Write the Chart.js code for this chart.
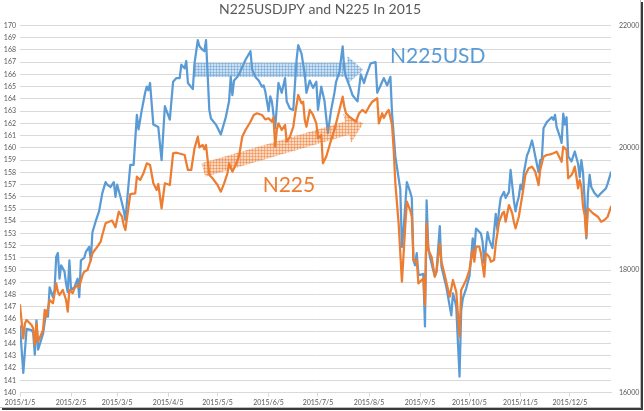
<!DOCTYPE html>
<html>
<head>
<meta charset="utf-8">
<script src="https://cdn.jsdelivr.net/npm/chart.js@4.4.1/dist/chart.umd.min.js"></script>
<style>
html,body{margin:0;padding:0;background:#fff;}
#frame{position:absolute;left:0;top:0;width:640px;height:407px;border-right:1px solid #bdbdbd;border-bottom:1px solid #bdbdbd;box-shadow:2px 2px 0 #3a3a3a;background:#fff;}
canvas{display:block;}
</style>
</head>
<body>
<div id="frame"><canvas id="c" width="640" height="407"></canvas></div>
<script>
// ---------- data (x = day of year 2015) ----------
const chartTitle = 'N225USDJPY and N225 In 2015';
const tickDays = [5, 36, 64, 95, 125, 156, 186, 217, 248, 278, 309, 339];
const tickLabels = ['2015/1/5','2015/2/5','2015/3/5','2015/4/5','2015/5/5','2015/6/5','2015/7/5','2015/8/5','2015/9/5','2015/10/5','2015/11/5','2015/12/5'];

const usdDays = [5,7,9,12,13,14,15,16,19,21,22,23,25,26,27,28,29,30,32,33,34,35,36,38,40,41,42,44,45,47,48,49,51,53,55,57,58,60,62,63,64,66,68,69,72,74,76,77,79,81,82,83,84,86,89,91,93,96,98,100,102,103,105,106,107,110,111,113,114,116,117,118,120,121,124,127,130,132,133,134,135,137,138,140,142,145,146,148,150,152,153,154,156,157,158,160,161,162,164,166,167,169,171,173,174,176,178,179,181,183,185,186,188,190,192,194,196,197,199,201,202,203,205,207,210,212,214,215,218,221,222,224,225,226,228,230,231,233,236,237,238,240,242,243,244,245,246,247,248,250,251,252,253,254,256,257,258,260,261,264,267,268,269,270,272,273,274,276,278,280,281,282,285,286,287,289,290,292,294,295,296,297,299,300,302,303,305,306,307,308,309,310,311,313,314,316,317,318,320,321,322,323,325,328,329,330,331,333,334,335,336,337,338,340,341,342,344,345,346,347,348,349,350,351,352,354,356,358,361,362,364];
const usdValues = [145.4,141.6,145.2,145.1,144.9,143.1,145.9,143.5,144.8,146.7,146.2,148.6,147.8,148.4,151.1,151.4,149.3,150.4,149.9,148.9,148.2,150.8,148.4,148.6,149.3,147.8,150.8,151.0,151.5,151.9,150.8,153.1,154.0,154.8,156.3,157.2,157.0,156.8,157.2,156.0,157.0,156.0,154.9,154.1,158.6,158.6,162.7,161.5,163.1,164.5,165.0,164.7,165.3,161.9,161.7,159.0,163.4,162.3,165.4,165.7,165.7,166.8,166.5,167.1,165.3,164.8,166.9,168.8,168.3,168.0,167.9,168.8,163.1,162.4,161.9,161.1,162.5,163.8,165.8,164.3,165.5,165.8,166.0,166.6,167.2,167.9,166.4,165.8,165.5,165.0,165.1,164.6,163.0,164.2,163.8,161.6,163.4,165.3,164.5,165.7,163.8,163.2,163.1,167.2,168.4,167.7,166.0,164.5,165.5,164.9,165.4,163.1,165.0,163.8,161.2,163.1,164.5,165.4,166.2,168.3,166.4,165.8,165.1,164.3,163.8,166.0,165.3,165.8,166.9,167.0,164.5,165.1,165.4,165.7,165.1,165.8,162.8,159.3,156.6,151.9,153.3,157.2,156.4,155.9,150.8,150.4,151.4,149.7,149.6,149.7,145.4,155.7,151.9,151.1,150.0,149.5,149.9,153.6,150.3,148.6,146.3,148.1,147.6,147.0,141.3,146.7,147.7,148.5,149.5,152.6,151.6,153.4,153.0,152.3,150.6,153.1,152.5,151.8,154.6,153.3,154.9,155.9,156.4,155.9,156.4,158.2,155.7,154.8,155.5,156.0,157.0,156.6,157.9,159.4,159.7,160.6,160.0,159.3,158.0,159.0,159.1,161.6,162.1,162.5,162.3,162.7,161.7,160.9,160.4,162.8,161.9,162.5,159.3,158.9,159.3,159.7,158.7,157.6,159.0,158.0,155.7,152.6,156.3,157.8,156.8,156.3,156.0,156.3,156.7,157.1,158.0];

const n225Days = [5,7,8,9,12,13,14,15,16,19,20,21,23,25,27,28,29,31,33,34,35,37,38,40,41,43,44,46,48,49,52,54,55,57,59,61,63,65,67,68,69,72,75,76,78,80,82,84,86,88,89,91,93,96,98,100,103,105,107,109,111,113,114,116,117,118,120,122,125,127,129,131,132,134,136,138,140,142,145,147,149,152,154,156,158,159,160,161,162,164,166,167,169,171,172,174,176,177,178,179,181,183,185,186,188,189,191,194,196,198,201,202,203,205,209,211,213,215,217,219,222,223,225,226,228,229,231,232,233,235,237,239,240,242,243,244,245,246,247,248,250,251,252,253,255,257,258,260,261,263,266,268,270,272,273,274,276,278,280,281,282,284,285,287,288,290,291,293,294,296,298,299,300,302,304,305,306,308,309,310,312,314,316,318,320,321,323,325,327,329,331,332,334,335,337,338,340,341,342,343,344,345,346,347,348,349,350,351,353,356,358,360,362,364];
const n225Values = [17430,16886,17130,17185,17103,17050,16777,17130,16831,17022,17349,17239,17512,17458,17785,17648,17594,17676,17512,17321,17676,17622,17703,17757,17730,17921,17975,18003,18166,18276,18384,18465,18575,18766,18792,18809,18701,18956,18874,18738,18657,19245,19257,19528,19474,19584,19747,19719,19420,19311,19409,19011,19420,19392,19911,19920,19899,19883,19638,19638,19992,20182,20009,20046,19976,20046,19556,19502,19392,19283,19420,19584,19747,19610,19719,19855,20182,20292,20427,20537,20565,20537,20466,20483,20427,20499,20018,20292,20401,20292,20373,20100,20182,20345,20537,20864,20728,20754,20455,20345,20619,20537,20401,20156,20210,19747,19855,20128,20292,20509,20836,20672,20565,20509,20427,20565,20619,20574,20672,20754,20810,20401,20565,20488,20591,20619,20373,19965,19420,18766,17811,18711,19119,18984,18874,18166,18138,18166,17785,17811,17867,17430,18766,18330,18220,17893,17975,18439,18138,17921,17566,17839,17648,16912,17676,17730,17839,18003,18330,18138,18384,18384,18276,17893,18276,18220,18138,18166,18428,18787,18930,18956,18792,19065,18930,18792,18684,18874,19038,19201,19556,19665,19692,19610,19392,19638,19855,19883,19894,19911,19937,19883,19773,20018,19965,19502,19556,19610,19692,19528,19338,19474,19365,19038,18902,18547,19011,18984,18930,18874,18792,18820,18874,19038];

// ---------- annotations (data coordinates on the left axis) ----------
const arrowNotes = [
  { from: [110.7, 166.36], to: [213.6, 166.36], rgb: [91,155,213], body: 7, headLen: 16, headHalf: 14 },
  { from: [116.4, 158.19], to: [213.6, 162.0], rgb: [237,125,49], body: 7, headLen: 17, headHalf: 15 }
];
const textNotes = [
  { text: 'N225USD', at: [229.8, 166.93], color: '#5B9BD5' },
  { text: 'N225', at: [152.4, 156.41], color: '#ED7D31' }
];

const BLUE = '#5B9BD5', ORANGE = '#ED7D31', GRID = '#d9d9d9', TXT = '#595959';
const FONT = 'Lato';

function makePattern(ctx, rgb) {
  const c = document.createElement('canvas');
  c.width = 3; c.height = 3;
  const p = c.getContext('2d');
  p.fillStyle = `rgba(${rgb[0]},${rgb[1]},${rgb[2]},0.3)`;
  p.fillRect(0, 0, 3, 3);
  p.fillStyle = `rgba(${rgb[0]},${rgb[1]},${rgb[2]},0.46)`;
  p.fillRect(0, 0, 3, 1);
  p.fillRect(0, 0, 1, 3);
  return ctx.createPattern(c, 'repeat');
}

const notesPlugin = {
  id: 'notes',
  afterDatasetsDraw(chart) {
    const ctx = chart.ctx, xs = chart.scales.x, ys = chart.scales.y;
    ctx.save();
    arrowNotes.forEach(a => {
      const x1 = xs.getPixelForValue(a.from[0]), y1 = ys.getPixelForValue(a.from[1]);
      const x2 = xs.getPixelForValue(a.to[0]), y2 = ys.getPixelForValue(a.to[1]);
      const dx = x2 - x1, dy = y2 - y1, L = Math.hypot(dx, dy);
      const ux = dx / L, uy = dy / L, px = -uy, py = ux;
      const bx = x2 - ux * a.headLen, by = y2 - uy * a.headLen;
      const pts = [
        [x1 + px * a.body, y1 + py * a.body],
        [bx + px * a.body, by + py * a.body],
        [bx + px * a.headHalf, by + py * a.headHalf],
        [x2, y2],
        [bx - px * a.headHalf, by - py * a.headHalf],
        [bx - px * a.body, by - py * a.body],
        [x1 - px * a.body, y1 - py * a.body]
      ];
      ctx.beginPath();
      pts.forEach((p, i) => i ? ctx.lineTo(p[0], p[1]) : ctx.moveTo(p[0], p[1]));
      ctx.closePath();
      ctx.fillStyle = makePattern(ctx, a.rgb);
      ctx.fill();
    });
    ctx.font = `21px ${FONT}`;
    ctx.textBaseline = 'alphabetic';
    ctx.textAlign = 'left';
    textNotes.forEach(t => {
      ctx.fillStyle = t.color;
      ctx.fillText(t.text, xs.getPixelForValue(t.at[0]), ys.getPixelForValue(t.at[1]));
    });
    ctx.restore();
  }
};

const tickFont = { family: FONT, size: 7 };

new Chart(document.getElementById('c'), {
  type: 'line',
  data: {
    datasets: [
      {
        label: 'N225',
        data: n225Days.map((d, i) => ({ x: d, y: n225Values[i] })),
        yAxisID: 'y2',
        borderColor: ORANGE,
        borderWidth: 2.25,
        pointRadius: 0,
        tension: 0,
        borderJoinStyle: 'round',
        borderCapStyle: 'round',
        order: 0
      },
      {
        label: 'N225USD',
        data: usdDays.map((d, i) => ({ x: d, y: usdValues[i] })),
        yAxisID: 'y',
        borderColor: BLUE,
        borderWidth: 2.25,
        pointRadius: 0,
        tension: 0,
        borderJoinStyle: 'round',
        borderCapStyle: 'round',
        order: 1
      }
    ]
  },
  options: {
    responsive: false,
    animation: false,
    events: [],
    layout: { padding: 0 },
    plugins: {
      legend: { display: false },
      tooltip: { enabled: false },
      title: {
        display: true,
        text: chartTitle,
        color: TXT,
        font: { family: FONT, size: 14, weight: 'normal', lineHeight: 1.2 },
        padding: { top: 1.5, bottom: 7.2 }
      }
    },
    scales: {
      x: {
        type: 'linear',
        min: 5,
        max: 364,
        afterBuildTicks(s) { s.ticks = tickDays.map(v => ({ value: v })); },
        afterFit(s) { s.height = 14.5; },
        ticks: {
          callback: (v, i) => tickLabels[i],
          autoSkip: false,
          maxRotation: 0,
          minRotation: 0,
          padding: 2,
          font: tickFont,
          color: TXT
        },
        grid: { drawOnChartArea: false, drawTicks: true, tickLength: 4, color: GRID },
        border: { display: true, color: GRID }
      },
      y: {
        position: 'left',
        min: 140,
        max: 170,
        afterFit(s) { s.width = 20; },
        ticks: { stepSize: 1, autoSkip: false, padding: 4, font: tickFont, color: TXT, callback: v => String(v) },
        grid: { color: GRID, drawTicks: false },
        border: { display: false }
      },
      y2: {
        position: 'right',
        min: 16000,
        max: 22000,
        afterFit(s) { s.width = 29; },
        ticks: { stepSize: 2000, autoSkip: false, padding: 8, font: tickFont, color: TXT, callback: v => String(v) },
        grid: { display: false, drawTicks: false },
        border: { display: false }
      }
    }
  },
  plugins: [notesPlugin]
});
</script>
</body>
</html>
